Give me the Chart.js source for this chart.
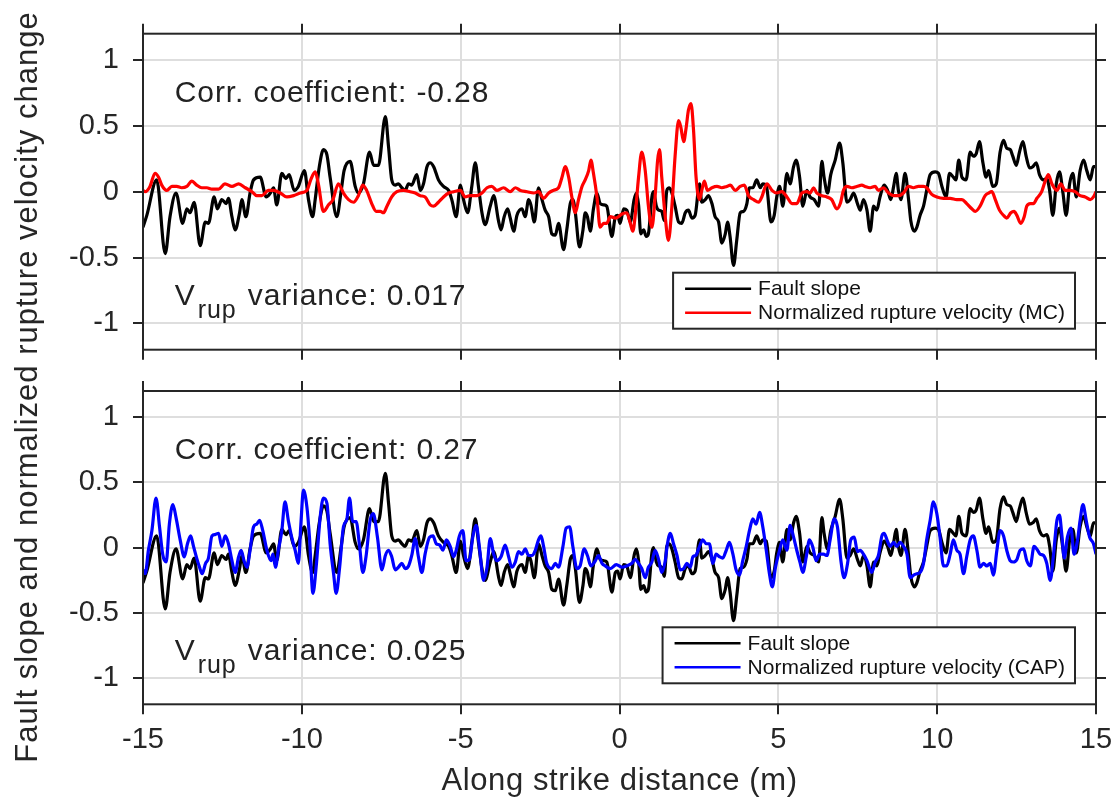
<!DOCTYPE html>
<html>
<head>
<meta charset="utf-8">
<script src="https://cdn.jsdelivr.net/npm/chart.js@4"></script>
<style>
  html, body { margin: 0; padding: 0; background: #fff; }
  #wrap { position: relative; width: 1113px; height: 797px; }
  #wrap canvas { position: absolute; left: 0; top: 0; }
</style>
</head>
<body>
<div id="wrap">
  <canvas id="panelTop" width="1113" height="797"></canvas>
  <canvas id="panelBottom" width="1113" height="797"></canvas>
</div>
<script>
// tick values
var xTicks = [-15, -10, -5, 0, 5, 10, 15];
var yTicks = [-1, -0.5, 0, 0.5, 1];

// fault slope (same in both panels)
var slopeX = [-15.0, -14.88, -14.57, -14.30, -14.15, -13.96, -13.75, -13.62, -13.52, -13.39, -13.20, -13.04, -12.94, -12.76, -12.66, -12.52, -12.38, -12.31, -12.20, -12.10, -11.96, -11.89, -11.76, -11.63, -11.52, -11.31, -11.12, -10.99, -10.89, -10.79, -10.63, -10.50, -10.40, -10.24, -10.11, -9.92, -9.79, -9.66, -9.58, -9.45, -9.32, -9.21, -9.11, -8.90, -8.76, -8.67, -8.48, -8.32, -8.22, -8.06, -7.87, -7.74, -7.59,
  -7.37, -7.27, -7.17, -7.06, -6.96, -6.85, -6.75, -6.64, -6.54, -6.38, -6.27, -6.17, -6.06, -5.96, -5.85, -5.70, -5.54, -5.38, -5.28, -5.14, -5.01, -4.91, -4.78, -4.65, -4.54, -4.44, -4.33, -4.23, -4.07, -3.96, -3.81, -3.73, -3.63, -3.52, -3.44, -3.33, -3.23, -3.07, -2.97, -2.86, -2.79, -2.68, -2.55, -2.44, -2.34, -2.23, -2.13, -2.02, -1.92, -1.76, -1.66, -1.55, -1.47, -1.39, -1.26, -1.15, -1.08, -1.01, -0.92, -0.82, -0.71, -0.61, -0.50, -0.40, -0.24, -0.13, -0.06,
  0.02, 0.13, 0.23, 0.34, 0.46, 0.53, 0.60, 0.67, 0.76, 0.84, 0.91, 1.02, 1.07, 1.16, 1.23, 1.33, 1.41, 1.49, 1.57, 1.65, 1.75, 1.86, 1.96, 2.07, 2.17, 2.28, 2.38, 2.52, 2.59, 2.70, 2.80, 2.91, 3.01, 3.12, 3.22, 3.33, 3.40, 3.48, 3.59, 3.69, 3.80, 3.90, 4.01, 4.09, 4.20, 4.32, 4.43, 4.51, 4.62, 4.77, 4.87, 4.95, 5.04, 5.14, 5.27, 5.37, 5.48, 5.56, 5.67, 5.77, 5.90, 6.00, 6.13, 6.27, 6.37, 6.44, 6.55, 6.65, 6.79, 6.93, 7.03, 7.16, 7.26, 7.37, 7.49,
  7.58, 7.68, 7.79, 7.89, 8.00, 8.10, 8.20, 8.33, 8.44, 8.54, 8.63, 8.71, 8.78, 8.86, 8.99, 9.10, 9.17, 9.28, 9.36, 9.46, 9.57, 9.67, 9.78, 9.94, 10.04, 10.15, 10.28, 10.39, 10.51, 10.59, 10.68, 10.78, 10.91, 11.04, 11.14, 11.23, 11.33, 11.44, 11.54, 11.62, 11.75, 11.86, 11.98, 12.09, 12.19, 12.30, 12.38, 12.49, 12.59, 12.70, 12.80, 12.91, 13.01, 13.12, 13.22, 13.35, 13.45, 13.54, 13.64, 13.75, 13.85, 13.96, 14.06, 14.17, 14.27, 14.38, 14.50, 14.61, 14.71, 14.82, 14.92, 15.0];
var slopeY = [-0.27, -0.18, 0.09, -0.47, -0.19, -0.01, -0.24, -0.13, -0.16, -0.08, -0.41, -0.23, -0.24, -0.04, -0.13, -0.06, -0.09, -0.05, -0.19, -0.29, -0.16, -0.06, -0.19, -0.01, 0.09, 0.11, -0.04, -0.01, 0.03, -0.10, 0.14, 0.10, 0.13, 0.01, 0.04, 0.16, -0.06, -0.19, -0.06, 0.19, 0.32, 0.28, 0.11, -0.19, 0.01, 0.16, 0.23, 0.04, -0.01, 0.06, 0.30, 0.20, 0.20,
  0.57, 0.34, 0.09, 0.05, 0.06, 0.03, 0.01, 0.06, 0.05, 0.13, 0.01, 0.06, 0.19, 0.22, 0.19, 0.09, 0.04, 0.01, -0.06, -0.19, 0.05, -0.06, -0.16, 0.04, 0.22, 0.04, -0.16, -0.25, -0.11, -0.03, -0.22, -0.29, -0.19, -0.13, -0.20, -0.30, -0.18, -0.13, -0.19, -0.06, -0.10, -0.23, 0.03, -0.06, -0.14, -0.19, -0.32, -0.33, -0.24, -0.44, -0.29, -0.09, -0.06, -0.16, -0.42, -0.29, -0.16, -0.19, -0.30, -0.13, -0.01, -0.09, -0.10, -0.11, -0.34, -0.19, -0.18,
  -0.24, -0.13, -0.14, -0.23, -0.06, -0.01, -0.10, -0.32, -0.29, -0.34, -0.32, -0.04, 0.00, -0.11, -0.14, -0.15, -0.22, 0.01, 0.03, -0.01, -0.11, -0.23, -0.24, -0.16, -0.14, -0.20, -0.18, 0.06, -0.08, -0.06, -0.03, -0.09, -0.19, -0.23, -0.39, -0.32, -0.23, -0.34, -0.56, -0.37, -0.16, -0.15, -0.09, 0.03, 0.03, 0.09, 0.03, 0.06, 0.05, -0.23, -0.18, -0.04, 0.04, -0.11, 0.14, 0.06, 0.19, 0.24, 0.11, -0.11, 0.01, -0.04, -0.06, -0.11, 0.23, 0.11, -0.01, 0.13, 0.24, 0.37, 0.22, -0.08, -0.06, -0.01, -0.09,
  -0.14, -0.06, -0.14, -0.30, -0.11, -0.14, -0.04, 0.05, 0.01, -0.06, 0.04, 0.14, 0.01, -0.06, 0.14, -0.06, -0.22, -0.30, -0.27, -0.18, -0.11, 0.01, 0.13, 0.15, 0.14, 0.04, -0.04, 0.14, 0.11, 0.09, 0.24, 0.11, 0.09, 0.30, 0.27, 0.29, 0.38, 0.22, 0.11, 0.16, 0.04, 0.06, 0.30, 0.39, 0.33, 0.32, 0.27, 0.20, 0.30, 0.38, 0.27, 0.18, 0.19, 0.22, 0.13, 0.09, 0.10, 0.01, -0.18, 0.06, 0.15, -0.01, -0.18, 0.06, 0.14, -0.04, 0.16, 0.24, 0.16, 0.09, 0.19, 0.19];

// normalized rupture velocity (MC), top panel
var mcX = [-15.0, -14.93, -14.78, -14.62, -14.51, -14.41, -14.25, -14.09, -13.94, -13.78, -13.62, -13.46, -13.31, -13.15, -12.99, -12.83, -12.62, -12.42, -12.20, -11.99, -11.78, -11.57, -11.42, -11.26, -11.05, -10.89, -10.68, -10.47, -10.26, -10.05, -9.84, -9.72, -9.58, -9.48, -9.32, -9.16, -9.02, -8.85, -8.69, -8.53, -8.37, -8.22, -8.08, -7.96, -7.80, -7.66,
  -7.53, -7.43, -7.32, -7.17, -7.01, -6.80, -6.59, -6.43, -6.27, -6.12, -5.96, -5.85, -5.70, -5.54, -5.38, -5.22, -5.01, -4.86, -4.70, -4.49, -4.33, -4.17, -4.02, -3.86, -3.65, -3.44, -3.28, -3.12, -2.91, -2.70, -2.55, -2.39, -2.23, -2.08, -1.92, -1.81, -1.71, -1.60, -1.50, -1.39, -1.29, -1.18, -1.08, -0.97, -0.90, -0.82, -0.71, -0.61, -0.50, -0.40, -0.29, -0.12,
  0.08, 0.23, 0.34, 0.42, 0.49, 0.60, 0.70, 0.81, 0.91, 1.02, 1.12, 1.20, 1.26, 1.33, 1.44, 1.54, 1.65, 1.75, 1.86, 1.93, 2.02, 2.10, 2.17, 2.25, 2.33, 2.41, 2.52, 2.59, 2.67, 2.77, 2.91, 3.07, 3.22, 3.38, 3.49, 3.64, 3.80, 3.93, 4.06, 4.22, 4.38, 4.48, 4.64, 4.80, 4.95, 5.11, 5.27, 5.43, 5.58, 5.74, 5.90, 6.00, 6.11, 6.21, 6.37, 6.53, 6.68, 6.84, 6.95, 7.05, 7.16, 7.31, 7.47,
  7.63, 7.73, 7.89, 8.05, 8.15, 8.31, 8.47, 8.63, 8.78, 8.94, 9.10, 9.25, 9.41, 9.57, 9.67, 9.83, 9.99, 10.20, 10.41, 10.62, 10.78, 10.93, 11.09, 11.20, 11.35, 11.51, 11.62, 11.72, 11.83, 11.96, 12.09, 12.19, 12.32, 12.42, 12.51, 12.63, 12.74, 12.82, 12.93, 13.03, 13.14, 13.29, 13.40, 13.50, 13.61, 13.77, 13.89, 14.03, 14.19, 14.34, 14.50, 14.66, 14.82, 14.92, 15.0];
var mcY = [0.01, 0.00, 0.04, 0.14, 0.11, 0.05, 0.01, 0.04, 0.04, 0.03, 0.04, 0.08, 0.05, 0.03, 0.03, 0.02, 0.02, 0.06, 0.04, 0.06, 0.03, 0.00, -0.03, -0.03, 0.01, 0.01, -0.01, -0.04, -0.03, -0.01, 0.01, 0.09, 0.15, 0.06, -0.15, -0.10, -0.06, 0.06, -0.01, -0.06, -0.08, -0.03, 0.05, 0.01, -0.09, -0.15,
  -0.15, -0.16, -0.11, -0.04, 0.00, 0.01, 0.00, -0.01, -0.03, -0.04, -0.10, -0.11, -0.08, -0.04, -0.01, 0.00, 0.01, -0.04, -0.03, -0.03, -0.01, 0.03, 0.04, 0.01, 0.03, 0.00, 0.03, 0.01, 0.00, -0.01, 0.00, -0.05, -0.01, 0.01, 0.03, 0.11, 0.19, 0.11, -0.04, -0.16, -0.06, 0.04, 0.09, 0.16, 0.24, 0.14, -0.04, -0.27, -0.24, -0.24, -0.19, -0.20,
  -0.17, -0.16, -0.24, -0.30, -0.19, 0.11, 0.30, 0.16, -0.11, -0.27, -0.04, 0.24, 0.32, 0.11, -0.19, -0.37, -0.11, 0.27, 0.54, 0.49, 0.38, 0.49, 0.62, 0.67, 0.47, 0.11, -0.06, 0.01, 0.08, 0.01, 0.03, 0.04, 0.03, 0.04, 0.05, 0.01, 0.04, 0.05, -0.03, -0.06, -0.08, -0.04, 0.06, 0.01, -0.01, 0.00, -0.04, -0.09, -0.09, -0.01, 0.00, -0.01, 0.03, -0.01, -0.03, -0.04, -0.06, -0.13, -0.09, 0.01, 0.04, 0.03, 0.04,
  0.05, 0.04, 0.03, 0.04, 0.01, 0.03, -0.01, -0.03, -0.03, -0.01, 0.04, 0.03, 0.04, 0.04, 0.03, -0.02, -0.04, -0.05, -0.05, -0.06, -0.06, -0.09, -0.13, -0.15, -0.11, -0.03, -0.01, 0.00, -0.06, -0.14, -0.18, -0.20, -0.16, -0.15, -0.18, -0.24, -0.19, -0.11, -0.09, -0.09, -0.05, 0.00, 0.08, 0.13, 0.06, 0.01, 0.06, 0.01, 0.01, 0.00, -0.03, -0.04, -0.06, -0.04, 0.00];

// normalized rupture velocity (CAP), bottom panel
var capX = [-15.0, -14.93, -14.83, -14.72, -14.59, -14.48, -14.38, -14.27, -14.17, -14.06, -13.96, -13.83, -13.70, -13.60, -13.50, -13.41, -13.31, -13.22, -13.14, -13.03, -12.94, -12.83, -12.73, -12.62, -12.52, -12.41, -12.31, -12.20, -12.10, -11.99, -11.91, -11.82, -11.73, -11.63, -11.52, -11.42, -11.33, -11.23, -11.10, -10.97, -10.91, -10.83, -10.74, -10.63, -10.53, -10.42, -10.32, -10.21, -10.11, -10.03, -9.95, -9.84, -9.76, -9.65, -9.55, -9.42, -9.32, -9.21, -9.11, -9.00, -8.92, -8.81, -8.69, -8.58, -8.50, -8.40, -8.29, -8.19, -8.08, -7.98, -7.85, -7.75, -7.62, -7.48,
  -7.37, -7.27, -7.17, -7.06, -6.96, -6.85, -6.75, -6.64, -6.54, -6.43, -6.33, -6.22, -6.12, -5.98, -5.87, -5.77, -5.66, -5.56, -5.45, -5.33, -5.22, -5.14, -5.04, -4.93, -4.83, -4.72, -4.62, -4.51, -4.40, -4.28, -4.17, -4.07, -3.96, -3.86, -3.73, -3.60, -3.49, -3.39, -3.28, -3.18, -3.07, -2.97, -2.86, -2.76, -2.65, -2.55, -2.47, -2.39, -2.29, -2.13, -2.02, -1.92, -1.78, -1.68, -1.57, -1.47, -1.34, -1.24, -1.11, -1.01, -0.90, -0.76, -0.66, -0.55, -0.45, -0.29, -0.10,
  0.08, 0.23, 0.39, 0.49, 0.60, 0.70, 0.81, 0.91, 1.02, 1.12, 1.23, 1.33, 1.44, 1.51, 1.60, 1.70, 1.81, 1.91, 2.02, 2.12, 2.23, 2.31, 2.40, 2.52, 2.62, 2.73, 2.83, 2.94, 3.04, 3.15, 3.25, 3.36, 3.46, 3.57, 3.67, 3.78, 3.88, 3.99, 4.09, 4.20, 4.30, 4.41, 4.51, 4.62, 4.72, 4.81, 4.91, 5.04, 5.14, 5.27, 5.37, 5.48, 5.58, 5.69, 5.77, 5.88, 5.98, 6.09, 6.19, 6.30, 6.42, 6.53, 6.63, 6.76, 6.86, 6.97, 7.07, 7.18, 7.28, 7.39, 7.49,
  7.58, 7.68, 7.79, 7.94, 8.05, 8.15, 8.26, 8.33, 8.42, 8.52, 8.63, 8.73, 8.83, 8.94, 9.05, 9.15, 9.26, 9.36, 9.46, 9.57, 9.67, 9.78, 9.88, 9.99, 10.09, 10.20, 10.30, 10.41, 10.51, 10.62, 10.72, 10.83, 10.93, 11.04, 11.14, 11.25, 11.35, 11.46, 11.56, 11.67, 11.77, 11.88, 11.98, 12.09, 12.19, 12.30, 12.40, 12.51, 12.61, 12.72, 12.82, 12.93, 13.05, 13.16, 13.24, 13.35, 13.45, 13.56, 13.66, 13.77, 13.85, 13.92, 14.00, 14.10, 14.21, 14.31, 14.42, 14.50, 14.59, 14.69, 14.80, 14.92, 15.0];
var capY = [-0.17, -0.20, -0.02, 0.13, 0.38, 0.16, -0.05, -0.11, 0.18, 0.33, 0.23, 0.06, -0.07, 0.03, 0.09, 0.01, -0.08, -0.15, -0.20, -0.12, -0.08, 0.09, 0.10, 0.11, 0.01, 0.09, 0.03, -0.10, -0.19, -0.07, -0.02, -0.10, -0.15, -0.02, 0.16, 0.18, 0.21, 0.13, -0.02, -0.10, -0.05, -0.15, -0.02, 0.13, 0.35, 0.20, 0.08, -0.02, -0.12, 0.18, 0.44, 0.31, 0.08, -0.35, -0.15, 0.24, 0.38, 0.34, 0.03, -0.20, -0.35, -0.15, 0.16, 0.22, 0.38, 0.20, 0.20, 0.03, -0.19, -0.07, 0.21, 0.26, 0.08, -0.17,
  -0.06, -0.02, -0.07, -0.17, -0.15, -0.12, -0.16, -0.14, -0.06, 0.07, -0.07, -0.19, -0.05, 0.08, 0.09, 0.03, 0.02, -0.02, 0.06, 0.01, -0.07, -0.02, 0.09, 0.13, -0.10, -0.09, 0.08, 0.17, -0.02, -0.25, -0.15, 0.07, -0.05, -0.10, -0.07, 0.02, -0.07, -0.15, -0.11, -0.03, -0.05, -0.01, -0.06, -0.06, -0.02, 0.06, 0.09, 0.01, -0.12, -0.16, -0.12, -0.15, 0.01, 0.15, 0.16, 0.01, -0.16, -0.14, -0.01, -0.06, -0.14, -0.10, -0.06, -0.12, -0.14, -0.16, -0.13,
  -0.15, -0.14, -0.12, -0.09, -0.12, -0.16, -0.23, -0.15, -0.11, -0.02, -0.09, -0.19, -0.10, 0.03, 0.11, 0.03, -0.06, -0.17, -0.16, -0.12, -0.15, -0.07, -0.06, 0.01, 0.06, 0.03, 0.03, -0.12, -0.05, -0.07, -0.08, -0.02, 0.04, -0.05, -0.17, -0.21, -0.10, 0.01, 0.13, 0.22, 0.18, 0.27, 0.16, -0.02, -0.20, -0.30, -0.15, -0.02, 0.06, -0.02, 0.17, 0.08, -0.02, -0.12, -0.19, -0.07, 0.06, 0.00, -0.10, -0.05, -0.05, -0.06, 0.06, 0.22, 0.16, -0.10, -0.23, -0.12, 0.06, 0.08, -0.03,
  -0.02, -0.05, -0.10, -0.19, -0.11, -0.06, 0.09, 0.11, 0.06, 0.01, 0.04, 0.01, 0.04, 0.01, -0.05, -0.23, -0.21, -0.20, -0.19, -0.12, 0.06, 0.21, 0.35, 0.26, 0.08, -0.14, -0.14, -0.05, 0.06, -0.02, -0.05, -0.20, -0.07, 0.06, 0.09, -0.02, -0.15, -0.12, -0.14, -0.12, -0.21, -0.02, 0.13, 0.09, -0.02, -0.10, -0.11, -0.09, -0.02, -0.01, -0.10, -0.14, 0.01, -0.02, -0.05, -0.06, -0.12, -0.25, -0.06, 0.21, 0.25, 0.11, -0.08, 0.08, 0.15, -0.05, 0.06, 0.21, 0.33, 0.21, 0.08, 0.03, -0.05];

var corrText = ['Corr. coefficient: -0.28', 'Corr. coefficient: 0.27'];
var varText = ['0.017', '0.025'];

var ink = '#262626';
var fontFam = '"Liberation Sans", Arial, Helvetica, sans-serif';

function pts(xs, ys) {
  return xs.map(function (x, i) { return { x: x, y: ys[i] }; });
}

// box, outward ticks, notes, legend and the shared axis titles
var framePlugin = {
  id: 'frame',
  afterDraw: function (chart, args, opts) {
    var ctx = chart.ctx;
    var a = chart.chartArea;
    var xs = chart.scales.x;
    var ys = chart.scales.y;
    ctx.save();

    ctx.strokeStyle = ink;
    ctx.lineWidth = 2;
    ctx.strokeRect(a.left, a.top, a.right - a.left, a.bottom - a.top);
    ctx.beginPath();
    xTicks.forEach(function (v) {
      var px = Math.round(xs.getPixelForValue(v));
      ctx.moveTo(px, a.top); ctx.lineTo(px, a.top - 10);
      ctx.moveTo(px, a.bottom); ctx.lineTo(px, a.bottom + 10);
    });
    yTicks.forEach(function (v) {
      var py = Math.round(ys.getPixelForValue(v));
      ctx.moveTo(a.left, py); ctx.lineTo(a.left - 10, py);
      ctx.moveTo(a.right, py); ctx.lineTo(a.right + 10, py);
    });
    ctx.stroke();

    // text notes
    ctx.fillStyle = '#222';
    ctx.textAlign = 'left';
    ctx.textBaseline = 'alphabetic';
    ctx.letterSpacing = '0.9px';
    var tx = xs.getPixelForValue(-14);
    ctx.font = '30px ' + fontFam;
    ctx.fillText(opts.corr, tx, ys.getPixelForValue(0.68));
    var vy = ys.getPixelForValue(-0.86);
    ctx.fillText('V', tx, vy);
    var w = ctx.measureText('V').width;
    ctx.font = '25px ' + fontFam;
    ctx.fillText('rup', tx + w + 2, vy + 13);
    w += ctx.measureText('rup').width + 4;
    ctx.font = '30px ' + fontFam;
    ctx.fillText(' variance: ' + opts.variance, tx + w, vy);
    ctx.letterSpacing = '0px';

    // legend box
    var sets = chart.data.datasets.slice().sort(function (p, q) { return q.order - p.order; });
    ctx.font = '21px ' + fontFam;
    var tw = 0;
    sets.forEach(function (d) { tw = Math.max(tw, ctx.measureText(d.label).width); });
    var bw = 12 + 66 + 7 + tw + 10;
    var bh = 56;
    var bx = a.right - 21 - bw;
    var by = a.bottom - 21 - bh;
    ctx.fillStyle = '#fff';
    ctx.fillRect(bx, by, bw, bh);
    ctx.strokeStyle = ink;
    ctx.lineWidth = 2;
    ctx.strokeRect(bx, by, bw, bh);
    ctx.textBaseline = 'middle';
    sets.forEach(function (d, i) {
      var ry = by + 16 + i * 24;
      ctx.strokeStyle = d.borderColor;
      ctx.lineWidth = 2.5;
      ctx.beginPath();
      ctx.moveTo(bx + 12, ry); ctx.lineTo(bx + 78, ry);
      ctx.stroke();
      ctx.fillStyle = '#111';
      ctx.fillText(d.label, bx + 85, ry + 1);
    });

    ctx.fillStyle = ink;
    ctx.letterSpacing = '1px';
    if (opts.yTitle) {
      ctx.font = '31px ' + fontFam;
      ctx.translate(28, 387);
      ctx.rotate(-Math.PI / 2);
      ctx.textAlign = 'center';
      ctx.textBaseline = 'middle';
      ctx.fillText(opts.yTitle, 0, 0);
      ctx.setTransform(1, 0, 0, 1, 0, 0);
    }
    if (opts.xTitle) {
      ctx.letterSpacing = '0.6px';
      ctx.font = '31px ' + fontFam;
      ctx.textAlign = 'center';
      ctx.textBaseline = 'middle';
      ctx.fillText(opts.xTitle, (a.left + a.right) / 2, 781);
    }
    ctx.restore();
  }
};

function makePanel(id, otherLabel, otherColor, otherX, otherY, p) {
  return new Chart(document.getElementById(id), {
    type: 'line',
    data: {
      datasets: [
        { label: 'Fault slope', data: pts(slopeX, slopeY), borderColor: '#000000', order: 1 },
        { label: otherLabel, data: pts(otherX, otherY), borderColor: otherColor, order: 0 }
      ]
    },
    options: {
      responsive: false,
      animation: false,
      events: [],
      layout: { padding: p.padding },
      elements: {
        point: { radius: 0 },
        line: { borderWidth: 3.2, cubicInterpolationMode: 'monotone' }
      },
      plugins: {
        legend: { display: false },
        tooltip: { enabled: false },
        frame: { corr: p.corr, variance: p.variance, yTitle: p.yTitle, xTitle: p.xTitle }
      },
      scales: {
        x: {
          type: 'linear', min: -15, max: 15,
          afterBuildTicks: function (s) { s.ticks = xTicks.map(function (v) { return { value: v }; }); },
          afterFit: function (s) { s.height = p.xHeight; s.paddingLeft = 0; s.paddingRight = 0; },
          grid: { color: '#dedede', lineWidth: 2, drawTicks: false },
          border: { display: false },
          ticks: { display: p.showX, padding: 18, color: ink, font: { family: fontFam, size: 29 },
            callback: function (v) { return String(v); } }
        },
        y: {
          type: 'linear', min: -1.2, max: 1.2,
          afterBuildTicks: function (s) { s.ticks = yTicks.map(function (v) { return { value: v }; }); },
          afterFit: function (s) { s.width = 143; s.paddingTop = 0; s.paddingBottom = 0; },
          grid: { color: '#dedede', lineWidth: 2, drawTicks: false },
          border: { display: false },
          ticks: { padding: 24, color: ink, font: { family: fontFam, size: 29 },
            callback: function (v) { return String(v); } }
        }
      }
    },
    plugins: [framePlugin]
  });
}

makePanel('panelTop', 'Normalized rupture velocity (MC)', '#ff0000', mcX, mcY, {
  padding: { top: 33.7, right: 17, bottom: 447.3, left: 0 },
  xHeight: 0, showX: false,
  corr: corrText[0], variance: varText[0],
  yTitle: 'Fault slope and normalized rupture velocity change'
});
makePanel('panelBottom', 'Normalized rupture velocity (CAP)', '#0000ff', capX, capY, {
  padding: { top: 391, right: 17, bottom: 0, left: 0 },
  xHeight: 92.7, showX: true,
  corr: corrText[1], variance: varText[1],
  xTitle: 'Along strike distance (m)'
});
</script>
</body>
</html>
